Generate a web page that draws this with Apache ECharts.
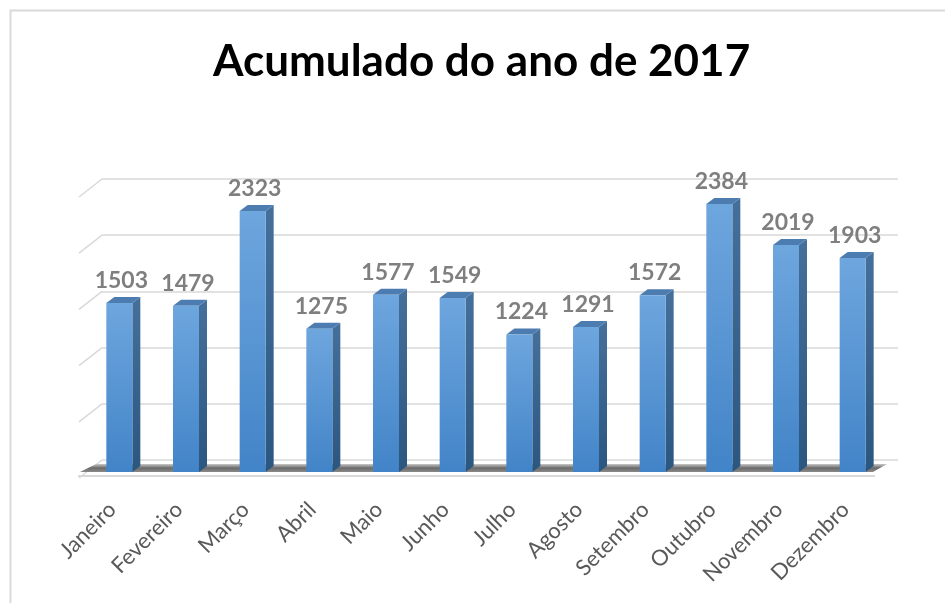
<!DOCTYPE html>
<html>
<head>
<meta charset="utf-8">
<script src="https://cdn.jsdelivr.net/npm/echarts@6/dist/echarts.min.js"></script>
<style>
html,body{margin:0;padding:0;background:#fff;}
#chart{width:945px;height:603px;}
</style>
</head>
<body>
<div id="chart"></div>
<script>
const titleText = 'Acumulado do ano de 2017';
const months = ['Janeiro','Fevereiro','Março','Abril','Maio','Junho','Julho','Agosto','Setembro','Outubro','Novembro','Dezembro'];
const totals = [1503,1479,2323,1275,1577,1549,1224,1291,1572,2384,2019,1903];
const yTicks = [0,500,1000,1500,2000,2500];

const chart = echarts.init(document.getElementById('chart'), null, {renderer:'canvas'});

const DX = 8, DY = 6, HW = 13;

function barItem(params, api) {
  const idx = api.value(0), val = api.value(1);
  const top = api.coord([idx, val]);
  const base = api.coord([idx, 0]);
  const x0 = top[0] - HW, x1 = top[0] + HW;
  const ty = top[1], by = base[1];
  return {
    type: 'group',
    children: [
      {type:'polygon', shape:{points:[[x1,ty],[x1+DX,ty-DY],[x1+DX,by-DY],[x1,by]]},
       style:{fill:new echarts.graphic.LinearGradient(0,0,0,1,[{offset:0,color:'#45709c'},{offset:1,color:'#2b5680'}])}},
      {type:'polygon', shape:{points:[[x0,ty],[x1,ty],[x1+DX,ty-DY],[x0+DX,ty-DY]]},
       style:{fill:'#4d7db0'}},
      {type:'rect', shape:{x:x0, y:ty, width:HW*2, height:by-ty},
       style:{fill:new echarts.graphic.LinearGradient(0,0,0,1,[{offset:0,color:'#6ea6de'},{offset:1,color:'#4284c8'}])}},
      {type:'text', x: top[0] + 2, y: ty - 11,
       style:{text:String(val), fill:'#7f7f7f', font:'bold 23px Lato', align:'center', verticalAlign:'bottom'}}
    ]
  };
}

function floorItem(params, api) {
  const cs = params.coordSys;
  const by = cs.y + cs.height;
  const l = cs.x, r = cs.x + cs.width;
  return {
    type:'group',
    children:[
      {type:'polygon', shape:{points:[[l-6,by],[l+10,by-8],[r+1,by-8],[r-13,by]]},
       style:{fill:new echarts.graphic.LinearGradient(0,0,0,1,[{offset:0,color:'#c8c8c8'},{offset:0.5,color:'#6b6b6b'},{offset:1,color:'#8a8a8a'}])}},
      {type:'line', shape:{x1:l-8, y1:by+4, x2:r-11, y2:by+4}, style:{stroke:'#d9d9d9', lineWidth:2}}
    ]
  };
}

function wallEdge(params, api) {
  const cs = params.coordSys;
  const p = api.coord([0, api.value(0)]);
  return {type:'line', shape:{x1:cs.x, y1:p[1], x2:cs.x-23, y2:p[1]+18},
          style:{stroke:'#d9d9d9', lineWidth:1.5}};
}

chart.setOption({
  animation:false,
  backgroundColor:'#ffffff',
  title:{
    text:titleText, left:208, top:35,
    textStyle:{fontFamily:'Lato', fontWeight:'bold', fontSize:44, color:'#000000'}
  },
  graphic:[{type:'rect', left:8, top:8, shape:{width:1000, height:700}, style:{fill:'none', stroke:'#d9d9d9', lineWidth:2}, silent:true}],
  grid:[
    {left:86, right:59, top:191, bottom:131},
    {left:102, right:47, top:179, bottom:143},
    {left:79, right:66, top:191, bottom:131}
  ],
  xAxis:[
    {type:'category', gridIndex:0, data:months, show:false},
    {type:'category', gridIndex:1, data:months, show:false},
    {type:'category', gridIndex:2, data:months, axisLine:{show:false}, axisTick:{show:false},
     axisLabel:{rotate:45, margin:34, interval:0, color:'#595959', fontFamily:'Lato', fontSize:22}}
  ],
  yAxis:[
    {type:'value', gridIndex:0, min:0, max:2500, interval:500, show:false, splitLine:{show:false}},
    {type:'value', gridIndex:1, min:0, max:2500, interval:500, axisLabel:{show:false}, axisLine:{show:false}, axisTick:{show:false},
     splitLine:{show:true, lineStyle:{color:'#d9d9d9', width:1.5}}},
    {type:'value', gridIndex:2, min:0, max:2500, interval:500, show:false, splitLine:{show:false}}
  ],
  series:[
    {type:'custom', xAxisIndex:1, yAxisIndex:1, silent:true, z:1, renderItem:wallEdge,
     data:yTicks.map(v=>[v]), encode:{y:0}},
    {type:'custom', xAxisIndex:0, yAxisIndex:0, silent:true, z:2, renderItem:floorItem, data:[[0,0]]},
    {type:'custom', name:'Acumulado', xAxisIndex:0, yAxisIndex:0, z:3, renderItem:barItem,
     data:totals.map((v,i)=>[i,v]), encode:{x:0, y:1}}
  ]
});
</script>
</body>
</html>
